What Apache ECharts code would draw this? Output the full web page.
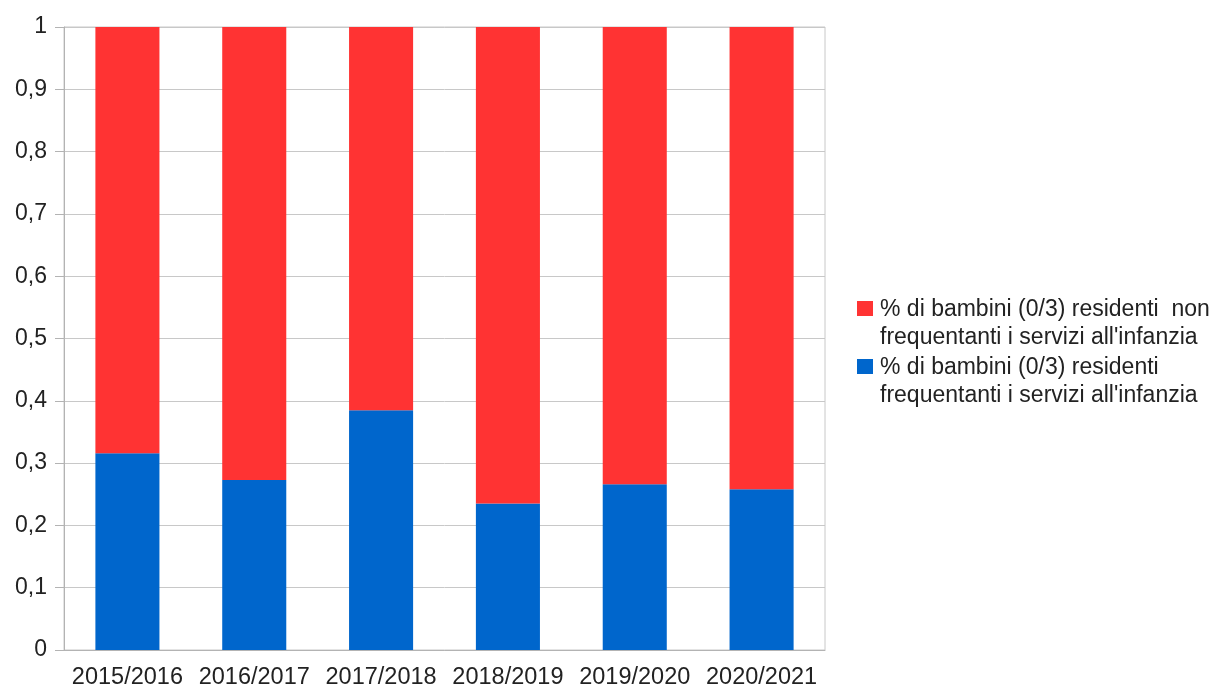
<!DOCTYPE html>
<html><head><meta charset="utf-8">
<script src="https://cdn.jsdelivr.net/npm/echarts@6/dist/echarts.min.js"></script>
<style>html,body{margin:0;padding:0;background:#fff}#c{width:1229px;height:690px}</style>
</head><body><div id="c"></div>
<script>
const categories = ['2015/2016','2016/2017','2017/2018','2018/2019','2019/2020','2020/2021'];
const frequentanti = [0.316, 0.273, 0.385, 0.235, 0.266, 0.258];
const nonFrequentanti = [0.684, 0.727, 0.615, 0.765, 0.734, 0.742];
const nameNon = '% di bambini (0/3) residenti  non\nfrequentanti i servizi all\'infanzia';
const nameFreq = '% di bambini (0/3) residenti\nfrequentanti i servizi all\'infanzia';

const chart = echarts.init(document.getElementById('c'));
const font = 'Liberation Sans, Arial, sans-serif';
const iconPath = 'path://M0,0L0.01,0L0,0.01Z M0,5L16,5L16,20L0,20Z M0,56L0.01,56L0,56.01Z';
chart.setOption({
  animation: false,
  textStyle: {fontFamily: font},
  grid: {left: 64, right: 404, top: 27, bottom: 40, show: true, borderColor: '#c8c8c8', borderWidth: 1},
  legend: {
    orient: 'vertical', left: 857, top: 296, padding: 0,
    itemWidth: 16, itemHeight: 56, itemGap: 2,
    data: [{name: nameNon, icon: iconPath}, {name: nameFreq, icon: iconPath}],
    textStyle: {fontSize: 23, lineHeight: 28, color: '#222', fontFamily: font, padding: [0,0,0,2]}
  },
  xAxis: {
    type: 'category', data: categories,
    axisLine: {lineStyle: {color: '#b3b3b3'}},
    axisTick: {length: 8, lineStyle: {color: '#b3b3b3'}},
    axisLabel: {fontSize: 23.5, color: '#222', margin: 16, interval: 0}
  },
  yAxis: {
    type: 'value', min: 0, max: 1, interval: 0.1,
    axisLine: {show: true, lineStyle: {color: '#b3b3b3'}},
    axisTick: {show: true, length: 9, lineStyle: {color: '#b3b3b3'}},
    splitLine: {lineStyle: {color: '#c8c8c8'}},
    axisLabel: {fontSize: 23, color: '#222', margin: 17,
      formatter: v => String(Math.round(v*10)/10).replace('.', ',')}
  },
  series: [
    {name: nameFreq, type: 'bar', stack: 't', data: frequentanti, barWidth: '50.5%', itemStyle: {color: '#0066cc'}},
    {name: nameNon, type: 'bar', stack: 't', data: nonFrequentanti, barWidth: '50.5%', itemStyle: {color: '#ff3333'}}
  ]
});
</script></body></html>
